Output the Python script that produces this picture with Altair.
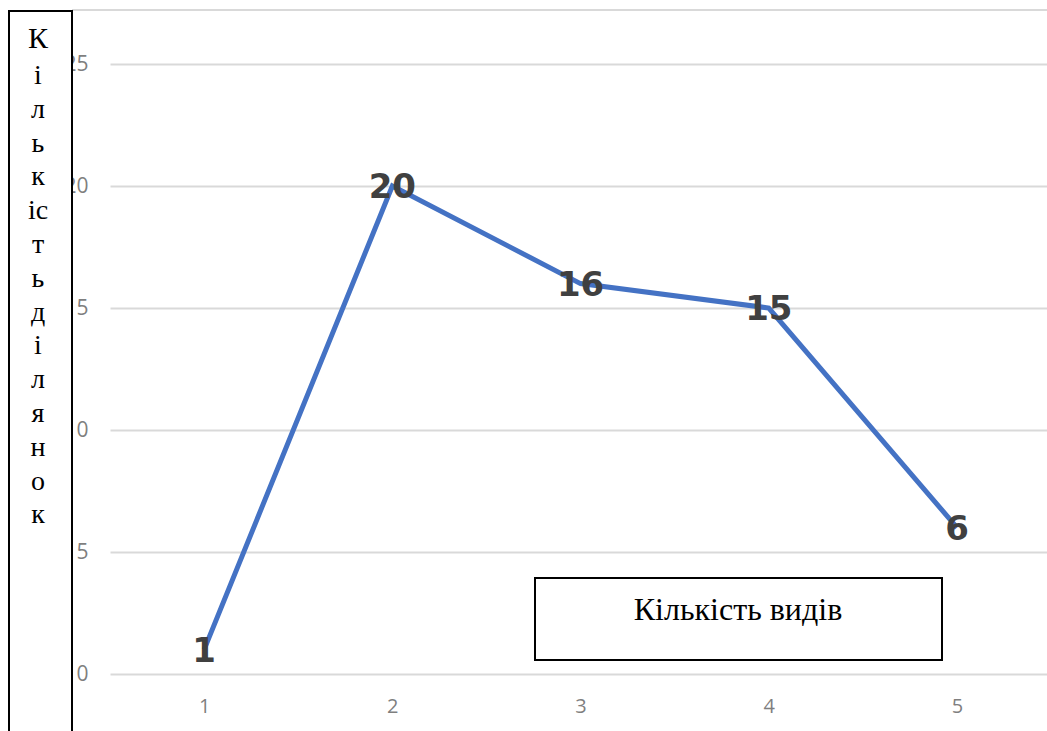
import altair as alt
import pandas as pd

x_vals = [1, 2, 3, 4, 5]
y_vals = [1, 20, 16, 15, 6]
y_ticks = [0, 5, 10, 15, 20, 25]
title_chars = ["К", "і", "л", "ь", "к", "іс", "т", "ь", "д", "і", "л", "я", "н", "о", "к"]
legend_text = "Кількість видів"

df = pd.DataFrame({"x": x_vals, "y": y_vals})
one = pd.DataFrame({"a": [0]})

W, H = 937, 610

xs = alt.X("x:Q", scale=alt.Scale(domain=[0.5, 5.478], nice=False, zero=False),
           axis=alt.Axis(values=x_vals, format="d", grid=False, domain=False, ticks=False,
                         labelPadding=22, labelFontSize=20, labelColor="#7f7f7f",
                         labelFont="Open Sans", title=None))
ys = alt.Y("y:Q", scale=alt.Scale(domain=[0, 25], nice=False),
           axis=alt.Axis(values=y_ticks, grid=True, gridColor="#d9d9d9", gridWidth=2,
                         domain=False, ticks=False, labelPadding=22, labelFontSize=21,
                         labelColor="#7f7f7f", labelFont="Open Sans", title=None))

line = alt.Chart(df).mark_line(color="#4472C4", strokeWidth=5, clip=False).encode(x=xs, y=ys)

labels = alt.Chart(df).mark_text(font="DejaVu Sans", fontWeight="bold", fontSize=34,
                                 color="#404040", baseline="middle", align="center", dy=2).encode(
    x="x:Q", y="y:Q", text="y:Q")

top_rule = alt.Chart(one).mark_rule(color="#d9d9d9", strokeWidth=2).encode(
    x=alt.value(-38), x2=alt.value(W), y=alt.value(-54))

left_box = alt.Chart(one).mark_rect(fill="white", stroke="black", strokeWidth=2).encode(
    x=alt.value(-101), x2=alt.value(-38), y=alt.value(-53), y2=alt.value(700))

first_char = alt.Chart(one).mark_text(font="Liberation Serif", fontSize=30, color="black",
                                      align="center", baseline="middle").encode(
    x=alt.value(-72), y=alt.value(39 - 64), text=alt.value(title_chars[0]))

rest_chars = alt.Chart(one).mark_text(font="Liberation Serif", fontSize=28, color="black",
                                      align="center", baseline="middle", lineHeight=33.8).encode(
    x=alt.value(-72), y=alt.value(76 - 64), text=alt.value(title_chars[1:]))

legend_box = alt.Chart(one).mark_rect(fill="white", stroke="black", strokeWidth=2).encode(
    x=alt.value(425), x2=alt.value(832), y=alt.value(514), y2=alt.value(596))

legend_lbl = alt.Chart(one).mark_text(font="Liberation Serif", fontSize=32, color="black",
                                      align="center", baseline="middle").encode(
    x=alt.value(628), y=alt.value(546), text=alt.value(legend_text))

chart = alt.layer(line, labels, top_rule, left_box, first_char, rest_chars, legend_box, legend_lbl).properties(
    width=W, height=H,
    autosize=alt.AutoSizeParams(type="none"),
    padding={"left": 110, "top": 64, "right": 0, "bottom": 57},
    background="white",
).configure_view(stroke=None)

chart.save("out.html", embed_options={"renderer": "svg", "actions": False})
